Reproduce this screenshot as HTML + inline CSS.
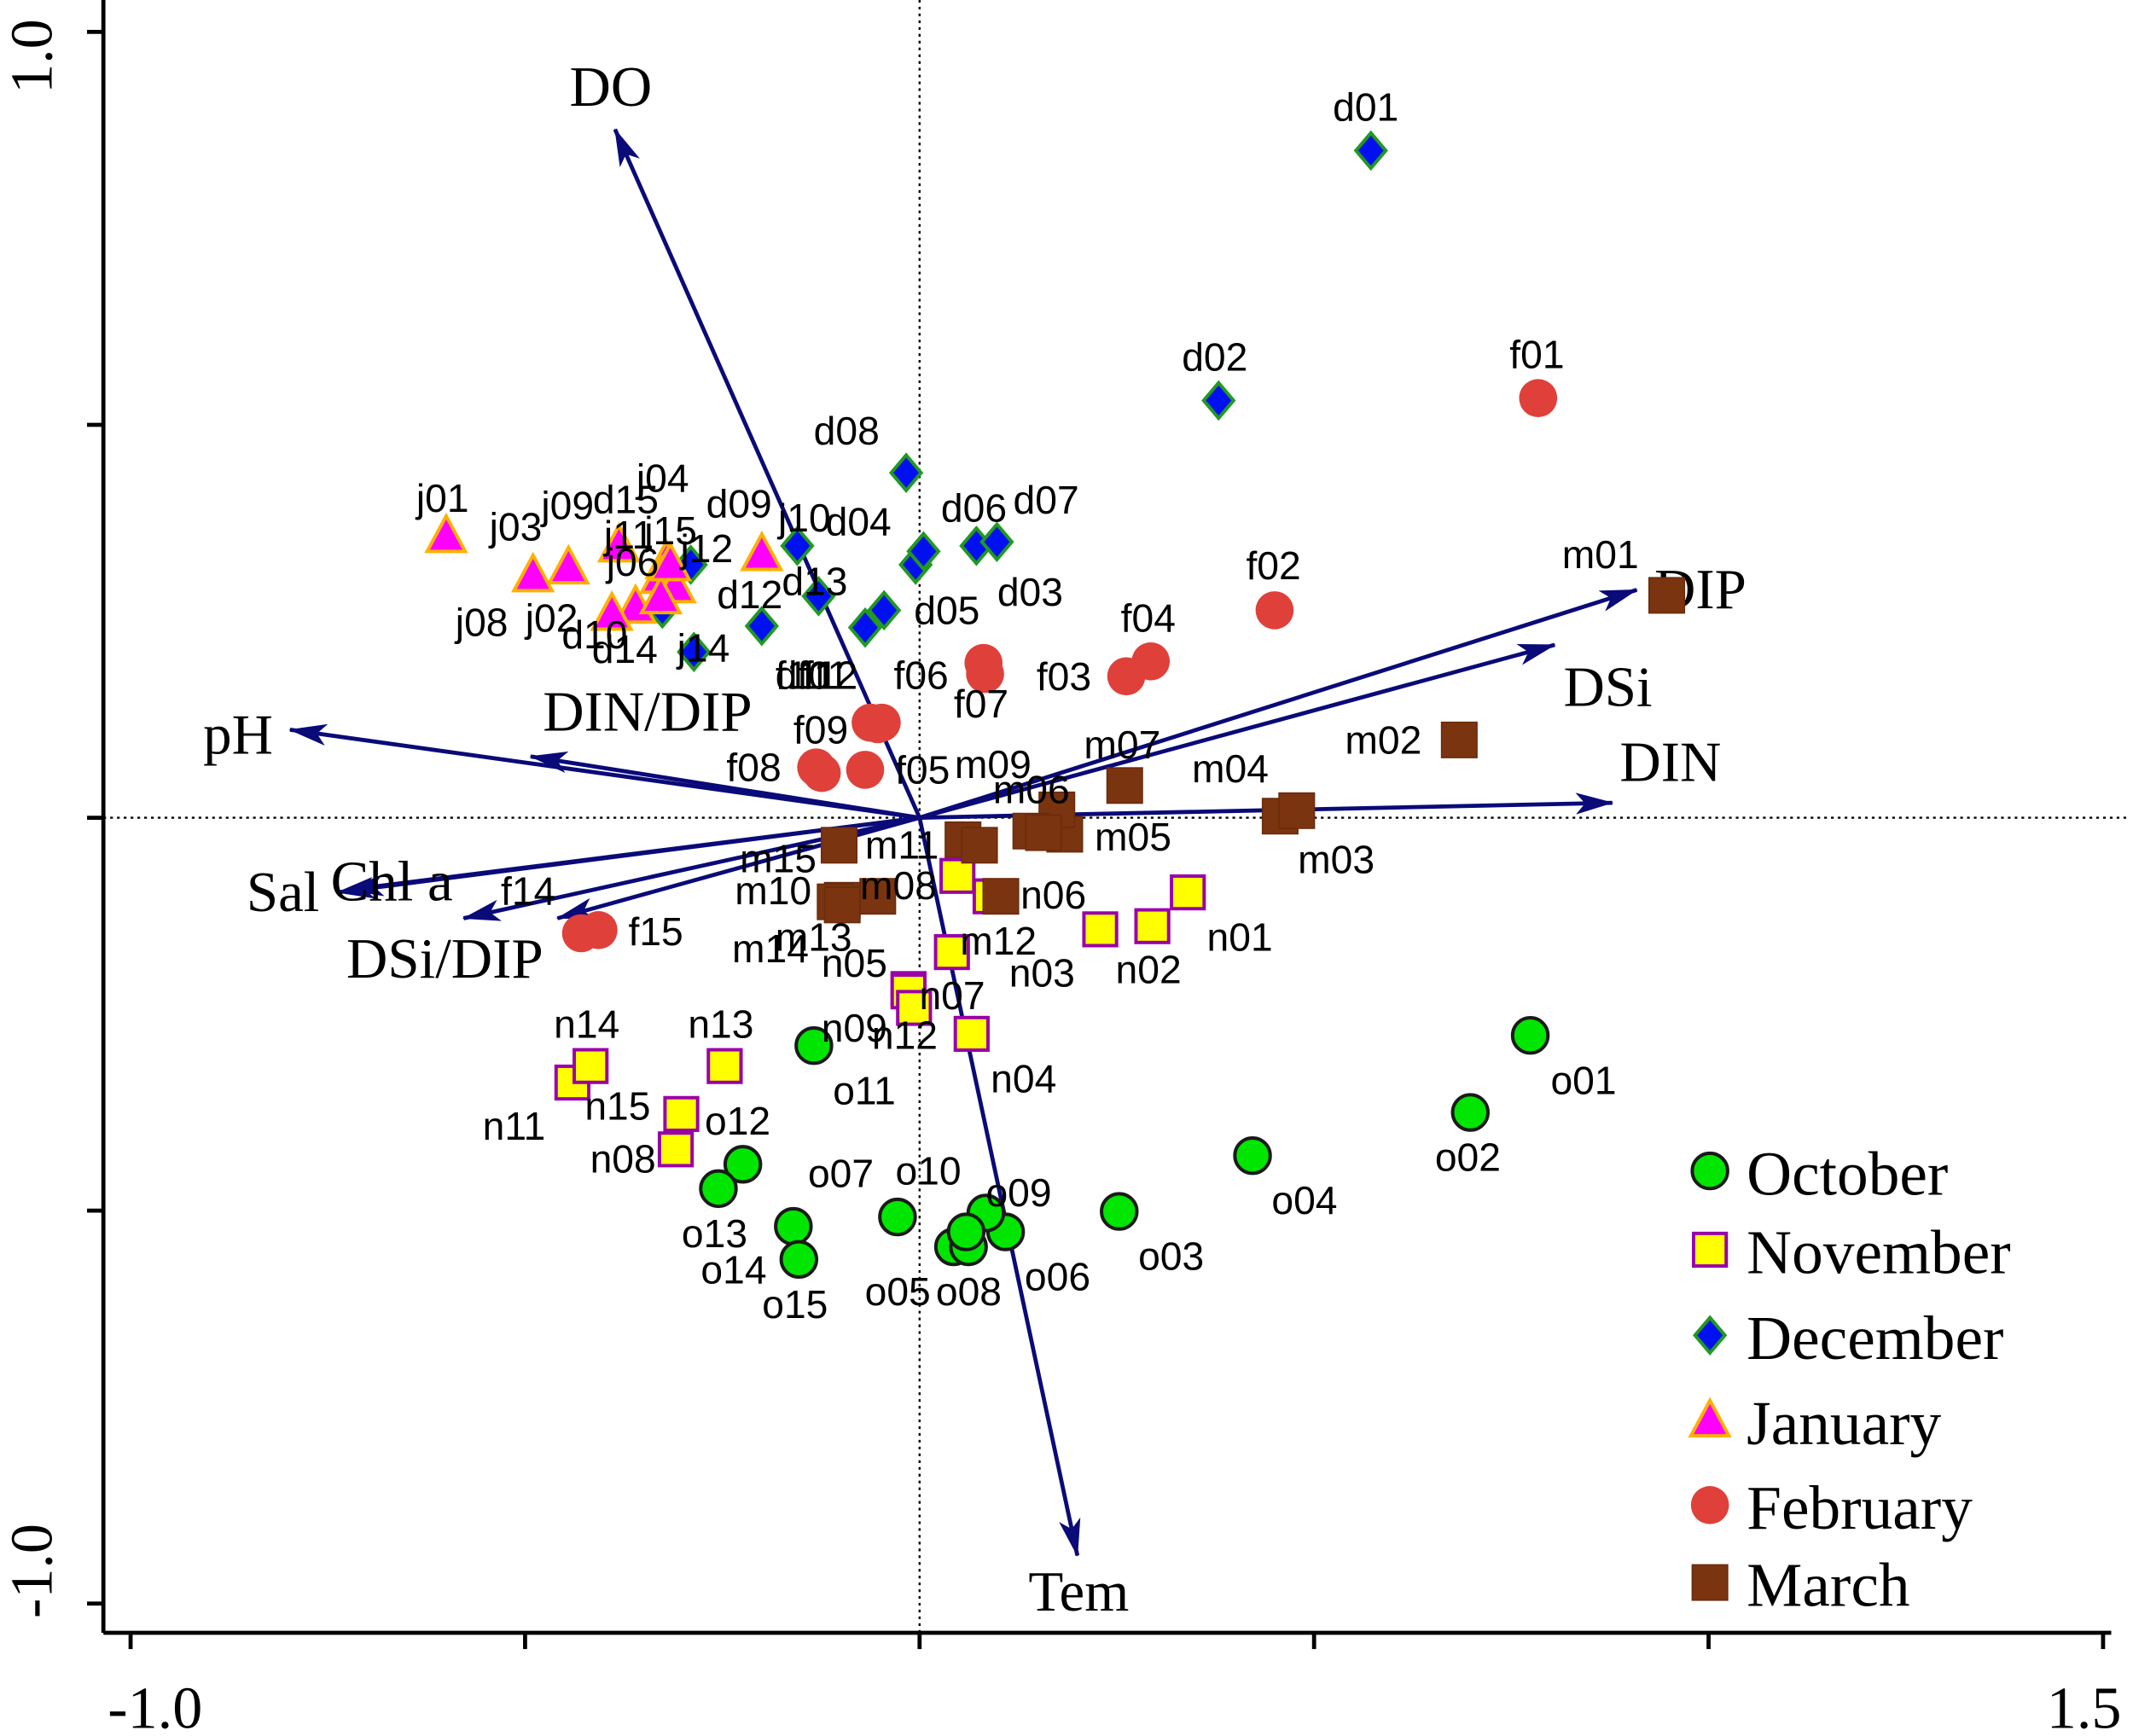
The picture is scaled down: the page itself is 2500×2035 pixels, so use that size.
<!DOCTYPE html>
<html><head><meta charset="utf-8"><style>
html,body{margin:0;padding:0;background:#fff;}
svg{display:block;}
.lbl{font-family:"Liberation Sans",Arial,sans-serif;font-size:29px;fill:#000;}
.var{font-family:"Liberation Serif",serif;font-size:42px;fill:#000;}
.ax{font-family:"Liberation Serif",serif;font-size:44px;fill:#000;}
.leg{font-family:"Liberation Serif",serif;font-size:46px;fill:#000;}
</style></head><body>
<svg id="chart" width="2500" height="2035" viewBox="0 0 1568 1278" preserveAspectRatio="none" xmlns="http://www.w3.org/2000/svg">
<defs><marker id="ah" markerWidth="28" markerHeight="16" refX="27" refY="8" orient="auto" markerUnits="userSpaceOnUse" viewBox="0 0 28 16"><path d="M0,0 L28,8 L0,16 L7,8 Z" fill="#0a0a78"/></marker></defs>
<g id="axes"></g>
<g id="arrows"></g>
<g id="points"></g>
<g id="legend"></g>
</svg>
<script>
// axis ticks
const xTicks = [-1.0, -0.5, 0, 0.5, 1.0, 1.5];
const yTicks = [1.0, 0.5, 0, -0.5, -1.0];
const xTickLabels = ["-1.0", "1.5"];
const yTickLabels = ["1.0", "-1.0"];
// environmental vectors
const varNames = ["DO","Tem","DIP","DSi","DIN","pH","DIN/DIP","Sal","Chl a","DSi/DIP",""];
const varX = [-0.386,0.200,0.909,0.805,0.878,-0.798,-0.493,-0.738,-0.726,-0.578,-0.459];
const varY = [0.876,-0.939,0.290,0.220,0.019,0.112,0.078,-0.095,-0.092,-0.128,-0.128];
// samples
const octNames = ["o01","o02","o03","o04","o05","o06","o07","o08","o09","o10","o11","o12","o13","o14","o15"];
const octX = [0.774,0.698,0.253,0.422,-0.028,0.109,0.043,0.062,0.084,0.059,-0.134,-0.224,-0.255,-0.160,-0.153];
const octY = [-0.277,-0.375,-0.501,-0.430,-0.508,-0.527,-0.546,-0.546,-0.503,-0.527,-0.290,-0.441,-0.472,-0.520,-0.562];
const novNames = ["n01","n02","n03","n04","n05","n06","n07","n08","n09","","n11","n12","n13","n14","n15"];
const novX = [0.340,0.295,0.229,0.066,-0.014,0.090,0.041,-0.309,-0.014,0.048,-0.440,-0.007,-0.247,-0.417,-0.302];
const novY = [-0.095,-0.138,-0.142,-0.275,-0.218,-0.100,-0.171,-0.422,-0.221,-0.074,-0.337,-0.242,-0.316,-0.316,-0.377];
const decNames = ["d01","d02","d03","d04","d05","d06","d07","d08","d09","d10","d11","d12","d13","d14","d15"];
const decX = [0.572,0.379,-0.005,0.005,-0.045,0.072,0.098,-0.017,-0.155,-0.326,-0.069,-0.200,-0.128,-0.286,-0.290];
const decY = [0.849,0.531,0.322,0.339,0.264,0.346,0.351,0.439,0.346,0.266,0.242,0.244,0.282,0.211,0.322];
const janNames = ["j01","j02","j03","j04","j06","j08","j09","j10","j11","j12","j14","j15"];
const janX = [-0.600,-0.360,-0.490,-0.321,-0.328,-0.390,-0.445,-0.200,-0.381,-0.310,-0.328,-0.316];
const janY = [0.358,0.268,0.308,0.325,0.306,0.259,0.318,0.335,0.346,0.294,0.280,0.322];
const febNames = ["f01","f02","f03","f04","f05","f06","f07","f08","f09","f10","f11","f12","f14","f15"];
const febX = [0.784,0.450,0.262,0.293,-0.069,0.081,0.083,-0.131,-0.053,-0.062,-0.124,-0.048,-0.429,-0.407];
const febY = [0.534,0.264,0.180,0.199,0.061,0.197,0.183,0.064,0.119,0.121,0.057,0.121,-0.147,-0.143];
const marNames = ["m01","m02","m03","m04","m05","m06","m07","m08","m09","m10","m11","m12","m13","m14","m15","",""];
const marX = [0.947,0.684,0.457,0.478,0.184,0.174,0.260,-0.053,0.141,-0.098,0.055,0.103,-0.107,-0.098,-0.102,0.076,0.157];
const marY = [0.283,0.099,0.002,0.009,-0.021,0.010,0.041,-0.100,-0.017,-0.105,-0.028,-0.100,-0.107,-0.111,-0.035,-0.035,-0.019];

// label offsets (styling, px)
const offs = {
o01:[15,33],o02:[-26,33],o03:[14,33],o04:[14,33],o05:[-24,55],o06:[14,33],o07:[-107,-54],o08:[-24,33],o09:[0,-15],o10:[-52,-45],o11:[14,33],o12:[-28,-32],o13:[-27,33],o14:[-68,32],o15:[-27,33],
n01:[14,33],n02:[-27,32],n03:[-67,32],n04:[14,33],n05:[-64,-19],n06:[22,-1],n07:[-24,32],n08:[-63,7],n09:[-64,27],n11:[-66,32],n12:[-31,20],n13:[-27,-31],n14:[-27,-31],n15:[-71,-6],
d01:[-28,-32],d02:[-27,-32],d03:[60,20],d04:[-72,-22],d05:[22,0],d06:[-26,-28],d07:[12,-31],d08:[-68,-31],d09:[-67,-31],d10:[-74,19],d11:[-66,35],d12:[-33,-23],d13:[-27,-11],d14:[-75,-2],d15:[-72,-48],
j01:[-22,-28],j02:[-81,8],j03:[-32,-36],j04:[-22,-62],j06:[-40,-11],j08:[-115,6],j09:[-20,-46],j10:[12,-27],j11:[-11,-8],j12:[4,-28],j14:[12,37],j15:[-19,-25],
f01:[-21,-32],f02:[-21,-33],f03:[-66,0],f04:[-22,-32],f05:[22,0],f06:[-66,9],f07:[-23,22],f08:[-66,0],f09:[-62,4],f10:[-70,-35],f11:[-18,-72],f12:[-58,-35],f14:[-59,-31],f15:[22,1],
m01:[-77,-30],m02:[-84,0],m03:[13,32],m04:[-77,-31],m05:[22,2],m06:[-47,-15],m07:[-30,-30],m08:[-13,-8],m09:[-56,-49],m10:[-79,-7],m11:[-72,4],m12:[-30,33],m13:[-44,26],m14:[-81,32],m15:[-73,10]};
const varLbl = {"DO":[449,64],"Tem":[793,1172],"DIP":[1250,434],"DSi":[1182,506],"DIN":[1228,561],"pH":[175,541],"DIN/DIP":[476,524],"Sal":[208,657],"Chl a":[288,649],"DSi/DIP":[327,706]};

const NS="http://www.w3.org/2000/svg";
const X0=676, Y0=602, SX=580, SY=578.5;
function sx(v){return X0+v*SX;}
function sy(v){return Y0-v*SY;}
function mk(tag,attrs,parent){const e=document.createElementNS(NS,tag);for(const k in attrs)e.setAttribute(k,attrs[k]);parent.appendChild(e);return e;}

const ax=document.getElementById('axes');
let e;
e=mk('line',{x1:76,y1:0,x2:76,y2:1202,stroke:'#000','stroke-width':3},ax);


e=mk('line',{x1:76,y1:1202,x2:1552,y2:1202,stroke:'#000','stroke-width':3},ax);


e=mk('line',{x1:sx(0),y1:0,x2:sx(0),y2:1202,stroke:'#000','stroke-width':1.5,'stroke-dasharray':'2,3'},ax);


e=mk('line',{x1:76,y1:sy(0),x2:1566,y2:sy(0),stroke:'#000','stroke-width':1.5,'stroke-dasharray':'2,3'},ax);


xTicks.forEach(t=>{const l=mk('line',{x1:sx(t),y1:1202,x2:sx(t),y2:1214,stroke:'#000','stroke-width':3},ax);

});
yTicks.forEach(t=>{const l=mk('line',{x1:64,y1:sy(t),x2:76,y2:sy(t),stroke:'#000','stroke-width':3},ax);

});
[xTicks[0],xTicks[xTicks.length-1]].forEach((t,i)=>{const tx=mk('text',{x:sx(t)+(i==0?18:-14),y:1272,'text-anchor':'middle',class:'ax'},ax);tx.textContent=xTickLabels[i];

});
[yTicks[0],yTicks[yTicks.length-1]].forEach((t,i)=>{const yy=sy(t)+(i==0?18:-24);const tx=mk('text',{x:38,y:yy,'text-anchor':'middle',class:'ax',transform:`rotate(-90 38 ${yy})`},ax);tx.textContent=yTickLabels[i];

});

const ar=document.getElementById('arrows');
varNames.forEach((n,i)=>{
 const l=mk('line',{x1:sx(0),y1:sy(0),x2:sx(varX[i]),y2:sy(varY[i]),stroke:'#0a0a78','stroke-width':3,'marker-end':'url(#ah)'},ar);
 
 
 if(n&&varLbl[n]){const t=mk('text',{x:varLbl[n][0],y:varLbl[n][1],'text-anchor':'middle','dominant-baseline':'central',class:'var'},ar);t.textContent=n;
 
 }
});

const pts=document.getElementById('points');
function marker(type,cx,cy,parent){
 if(type=='circle')return mk('circle',{cx:cx,cy:cy,r:13,fill:'#00e600',stroke:'#1a1a1a','stroke-width':2.5},parent);
 if(type=='redcircle')return mk('circle',{cx:cx,cy:cy,r:14,fill:'#e0403a'},parent);
 if(type=='ysq')return mk('rect',{x:cx-12,y:cy-12,width:24,height:24,fill:'#ffff00',stroke:'#9900aa','stroke-width':2.5},parent);
 if(type=='bsq')return mk('rect',{x:cx-13,y:cy-13,width:26,height:26,fill:'#7b3410',stroke:'#6a2c0c','stroke-width':1},parent);
 if(type=='dia')return mk('path',{d:`M${cx},${cy-13}L${cx+11},${cy}L${cx},${cy+13}L${cx-11},${cy}Z`,fill:'#0010ee',stroke:'#229922','stroke-width':2.5},parent);
 if(type=='tri')return mk('path',{d:`M${cx},${cy-15}L${cx+14},${cy+11}L${cx-14},${cy+11}Z`,fill:'#ff00ff',stroke:'#ffb000','stroke-width':2.5},parent);
}
const groups=[[octNames,octX,octY,'circle','october'],[novNames,novX,novY,'ysq','november'],[decNames,decX,decY,'dia','december'],[janNames,janX,janY,'tri','january'],[febNames,febX,febY,'redcircle','february'],[marNames,marX,marY,'bsq','march']];
groups.forEach(g=>{
 const [names,xs,ys,type,month]=g;
 xs.forEach((v,i)=>{
  const cx=sx(v),cy=sy(ys[i]);
  const m=marker(type,cx,cy,pts);
  
  
 });
});
groups.forEach(g=>{
 const [names,xs,ys]=g;
 names.forEach((n,i)=>{
  if(!n||!offs[n])return;
  const t=mk('text',{x:sx(xs[i])+offs[n][0],y:sy(ys[i])+offs[n][1],'dominant-baseline':'central',class:'lbl'},pts);
  t.textContent=n;
  
  
 });
});

const lg=document.getElementById('legend');
const legNames=["October","November","December","January","February","March"];
const legTypes=['circle','ysq','dia','tri','redcircle','bsq'];
const legY=[862,920,983,1046,1108,1165];
legNames.forEach((n,i)=>{
 const m=marker(legTypes[i],1257,legY[i],lg);
 
 
 const t=mk('text',{x:1284,y:legY[i]+2,'dominant-baseline':'central',class:'leg'},lg);
 t.textContent=n;
 
 
});
</script>
</body></html>
